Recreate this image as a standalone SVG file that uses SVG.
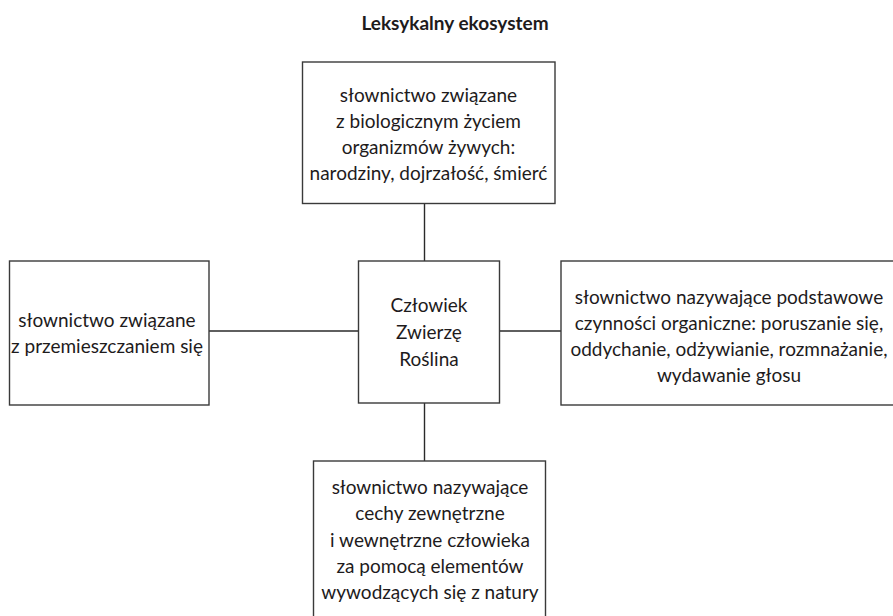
<svg xmlns="http://www.w3.org/2000/svg" width="893" height="616" viewBox="0 0 893 616">
<style>
.box{fill:#fff;stroke:#3a3a3a;stroke-width:1.4}
.conn line{stroke:#2a2a2a;stroke-width:1.4}
text{font-family:Lato,"Open Sans","Liberation Sans",sans-serif;font-size:19px;fill:#1e1b1c;text-anchor:middle}
.title{font-weight:bold;font-size:19px}
</style>
<rect width="893" height="616" fill="#fff"/>
<text class="title" x="455" y="30">Leksykalny ekosystem</text>
<g class="conn">
<line x1="424.5" y1="203.5" x2="424.5" y2="261"/>
<line x1="209" y1="331" x2="358.5" y2="331"/>
<line x1="499.5" y1="331" x2="561" y2="331"/>
<line x1="424.5" y1="403" x2="424.5" y2="461"/>
</g>
<g id="top">
<rect class="box" x="302.5" y="62" width="252.5" height="141.5"/>
<text x="428.5" y="102">słownictwo związane</text>
<text x="428.5" y="128">z biologicznym życiem</text>
<text x="428.5" y="154">organizmów żywych:</text>
<text x="428.5" y="180">narodziny, dojrzałość, śmierć</text>
</g>
<g id="left">
<rect class="box" x="9.5" y="261" width="199.5" height="144"/>
<text x="107" y="327">słownictwo związane</text>
<text x="107" y="353">z przemieszczaniem się</text>
</g>
<g id="center">
<rect class="box" x="358.5" y="261" width="141" height="142"/>
<text x="429" y="312">Człowiek</text>
<text x="429" y="339">Zwierzę</text>
<text x="429" y="366">Roślina</text>
</g>
<g id="right">
<rect class="box" x="561" y="261" width="340" height="144"/>
<text x="729" y="304">słownictwo nazywające podstawowe</text>
<text x="729" y="330">czynności organiczne: poruszanie się,</text>
<text x="729" y="356">oddychanie, odżywianie, rozmnażanie,</text>
<text x="729" y="382">wydawanie głosu</text>
</g>
<g id="bottom">
<rect class="box" x="313.5" y="461" width="232" height="170"/>
<text x="430" y="494">słownictwo nazywające</text>
<text x="430" y="520">cechy zewnętrzne</text>
<text x="430" y="546.5">i wewnętrzne człowieka</text>
<text x="430" y="573">za pomocą elementów</text>
<text x="430" y="599">wywodzących się z natury</text>
</g>
</svg>
